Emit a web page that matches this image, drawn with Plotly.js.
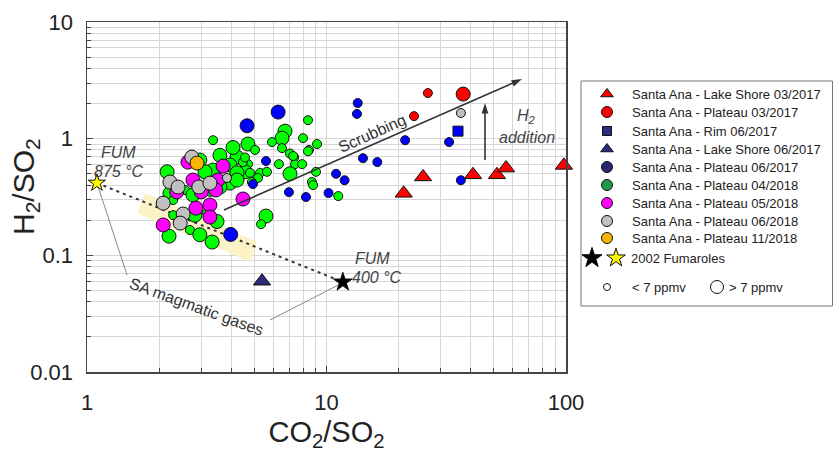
<!DOCTYPE html>
<html><head><meta charset="utf-8">
<script src="https://cdn.plot.ly/plotly-3.0.1.min.js"></script>
<style>html,body{margin:0;padding:0;background:#fff}#chart{width:833px;height:452px}</style>
</head><body><div id="chart"></div>
<script>
// ---------------- DATA ----------------
// Santa Ana - Lake Shore 03/2017
const ls0317_x = [21.0, 25.3, 40.9, 51.5, 56.2, 98.0];
const ls0317_y = [0.34, 0.47, 0.49, 0.49, 0.56, 0.59];
// Santa Ana - Plateau 03/2017
const pl0317_x = [26.5, 37.2, 23.2];
const pl0317_y = [2.46, 2.41, 1.56];
const pl0317_c = ['lo', 'hi', 'lo'];
// Santa Ana - Rim 06/2017
const rim0617_x = [35.4];
const rim0617_y = [1.16];
// Santa Ana - Lake Shore 06/2017
const ls0617_x = [5.38];
const ls0617_y = [0.060];
// Santa Ana - Plateau 06/2017
const pl0617_x = [6.28, 4.66, 5.59, 6.97, 8.21, 3.98, 4.93, 13.5, 13.4, 21.3, 32.5, 14.2, 16.3, 10.96, 11.9, 36.4, 10.2];
const pl0617_y = [1.69, 1.29, 0.643, 0.348, 0.316, 0.151, 0.408, 2.02, 1.63, 0.97, 0.936, 0.68, 0.63, 0.50, 0.44, 0.44, 0.342];
const pl0617_c = ['hi','hi','lo','lo','lo','hi','lo','lo','lo','lo','lo','lo','lo','lo','lo','lo','lo'];
// Santa Ana - Plateau 04/2018
const pl0418_x = [3.36, 6.71, 6.52, 5.92, 6.52, 7.98, 9.13, 8.45, 7.04, 7.33, 7.39, 7.91, 6.33, 7.04, 9.04, 8.69, 8.37, 4.70, 4.23, 4.07,
                  4.70, 4.57, 5.28, 5.17, 5.64, 3.59, 4.48, 3.95, 3.36, 3.11, 4.23, 4.79, 3.95, 3.59, 2.16, 2.57, 2.22, 3.26, 3.26, 2.82,
                  2.29, 2.20, 2.69, 2.96, 3.33, 3.49, 3.17, 2.29, 2.77, 5.59, 5.33, 11.2, 4.23, 4.88, 7.26, 8.37, 8.79, 5.03, 2.96, 4.57];
const pl0418_y = [0.97, 1.16, 1.01, 0.935, 0.83, 1.01, 0.90, 0.80, 0.745, 0.69, 0.605, 0.605, 0.605, 0.50, 0.52, 0.425, 1.44, 0.90, 0.695, 0.84,
                  0.605, 0.52, 0.51, 0.46, 0.52, 0.72, 0.63, 0.594, 0.538, 0.52, 0.51, 0.51, 0.416, 0.385, 0.52, 0.363, 0.34, 0.35, 0.27, 0.221,
                  0.221, 0.146, 0.165, 0.15, 0.13, 0.195, 0.232, 0.298, 0.33, 0.217, 0.185, 0.322, 0.442, 0.425, 0.71, 0.78, 0.40, 0.80, 0.656, 0.69];
const pl0418_c = ['lo','hi','hi','lo','lo','lo','lo','lo','lo','lo','lo','lo','lo','hi','lo','lo','lo','hi','hi','hi',
                  'lo','hi','lo','lo','lo','hi','lo','hi','hi','hi','hi','lo','hi','hi','hi','lo','hi','lo','lo','hi',
                  'lo','hi','lo','hi','hi','hi','lo','lo','hi','hi','lo','lo','hi','lo','lo','lo','lo','lo','hi','lo'];
// Santa Ana - Plateau 05/2018
const pl0518_x = [2.64, 3.70, 2.77, 3.52, 3.45, 4.48, 2.37, 2.85, 3.26, 3.26, 2.08, 3.00];
const pl0518_y = [0.63, 0.582, 0.442, 0.442, 0.363, 0.304, 0.35, 0.254, 0.27, 0.213, 0.182, 0.35];
const pl0518_c = ['hi','hi','hi','hi','hi','hi','hi','hi','hi','hi','hi','hi'];
// Santa Ana - Plateau 06/2018
const pl0618_x = [2.74, 2.22, 2.40, 2.93, 3.26, 3.84, 2.08, 2.52, 2.45, 36.4];
const pl0618_y = [0.695, 0.425, 0.385, 0.385, 0.416, 0.46, 0.28, 0.226, 0.189, 1.66];
const pl0618_c = ['hi','hi','hi','hi','hi','lo','hi','hi','hi','lo'];
// Santa Ana - Plateau 11/2018
const pl1118_x = [2.88];
const pl1118_y = [0.618];
const pl1118_c = ['hi'];
// 2002 Fumaroles (FUM 875 °C, FUM 400 °C)
const fum_x = [1.10, 11.7];
const fum_y = [0.417, 0.059];
// SA magmatic gases field (shaded band)
const band_x = [1.75, 5.13, 4.79, 1.62];
const band_y = [0.342, 0.130, 0.0877, 0.230];
// leader lines for "SA magmatic gases"
const lead1_x = [1.10, 1.47];
const lead1_y = [0.417, 0.0678];
const lead2_x = [5.81, 11.4];
const lead2_y = [0.0279, 0.0567];
// Scrubbing arrow (start, end) and H2 addition arrow (start, end)
const scrub_x = [3.73, 65.5];
const scrub_y = [0.245, 3.24];
const h2add_x = [45.9, 45.9];
const h2add_y = [0.656, 2.02];
// ticks
const xTickVals = [1, 10, 100];
const xTickText = ['1', '10', '100'];
const xMinorVals = [2, 3, 4, 5, 6, 7, 8, 9, 20, 30, 40, 50, 60, 70, 80, 90];
const yTickVals = [0.01, 0.1, 1, 10];
const yTickText = ['0.01', '0.1', '1', '10'];
const yMinorVals = [0.02, 0.03, 0.04, 0.05, 0.06, 0.07, 0.08, 0.09, 0.2, 0.3, 0.4, 0.5, 0.6, 0.7, 0.8, 0.9, 2, 3, 4, 5, 6, 7, 8, 9];
// legend
const legendLabels = ['Santa Ana - Lake Shore 03/2017', 'Santa Ana - Plateau 03/2017', 'Santa Ana - Rim 06/2017',
  'Santa Ana - Lake Shore 06/2017', 'Santa Ana - Plateau 06/2017', 'Santa Ana - Plateau 04/2018',
  'Santa Ana - Plateau 05/2018', 'Santa Ana - Plateau 06/2018', 'Santa Ana - Plateau 11/2018'];
const legendFum = '2002 Fumaroles';
const legendSizeLabels = ['< 7 ppmv', '> 7 ppmv'];

// ---------------- LAYOUT HELPERS ----------------
const W = 833, H = 452, ML = 87, MT = 22, MB = 80;
const PW = W - ML, PH = H - MT - MB;
const pxX = x => (x - ML) / PW;
const pxY = y => (H - MB - y) / PH;
const FONT = 'Liberation Sans, Arial, sans-serif';
const SZ = c => c.map(v => v === 'hi' ? 14 : 9);
const EDGE = {color: '#111', width: 1};

function pts(x, y, color, symbol, sizes) {
  return {x, y, type: 'scatter', mode: 'markers', xaxis: 'x', yaxis: 'y', hoverinfo: 'x+y', showlegend: false,
    cliponaxis: false, marker: {color, symbol, size: sizes, opacity: 1, line: EDGE}};
}
function arrow(x, y) {
  return {x, y, type: 'scatter', mode: 'lines+markers', xaxis: 'x', yaxis: 'y', hoverinfo: 'skip', showlegend: false,
    line: {color: '#333', width: 1.6}, cliponaxis: false,
    marker: {symbol: ['circle', 'arrow'], size: [0, 11], angleref: 'previous', color: '#333', opacity: 1, line: {width: 0}}};
}

const traces = [];
traces.push({x: band_x, y: band_y, type: 'scatter', mode: 'lines', fill: 'toself', fillcolor: '#fbf2c6',
  line: {width: 0, color: '#fbf2c6'}, hoverinfo: 'skip', showlegend: false});
traces.push({x: lead1_x, y: lead1_y, type: 'scatter', mode: 'lines', line: {color: '#888', width: 1}, hoverinfo: 'skip', showlegend: false});
traces.push({x: lead2_x, y: lead2_y, type: 'scatter', mode: 'lines', line: {color: '#888', width: 1}, hoverinfo: 'skip', showlegend: false});
traces.push({x: fum_x, y: fum_y, type: 'scatter', mode: 'lines', line: {color: '#333', width: 2, dash: '3px,4px'}, hoverinfo: 'skip', showlegend: false});
traces.push(pts(pl0418_x, pl0418_y, '#00ff00', 'circle', SZ(pl0418_c)));
traces.push(pts(pl0518_x, pl0518_y, '#ff00ff', 'circle', SZ(pl0518_c)));
traces.push(pts(pl0618_x, pl0618_y, '#c0c0c0', 'circle', SZ(pl0618_c)));
traces.push(pts(pl1118_x, pl1118_y, '#f7b500', 'circle', SZ(pl1118_c)));
traces.push(pts(pl0617_x, pl0617_y, '#0000ff', 'circle', SZ(pl0617_c)));
traces.push(pts(pl0317_x, pl0317_y, '#ff0000', 'circle', SZ(pl0317_c)));
traces.push(pts(rim0617_x, rim0617_y, '#0000ff', 'square', 10));
traces.push(pts(ls0617_x, ls0617_y, '#2d2a7e', 'triangle-up', 15));
traces.push(pts(ls0317_x, ls0317_y, '#ff0000', 'triangle-up', 15));
traces.push(pts([fum_x[0]], [fum_y[0]], '#ffff00', 'star', 13));
traces.push(pts([fum_x[1]], [fum_y[1]], '#000000', 'star', 14));
traces.push(arrow(scrub_x, scrub_y));
traces.push(arrow(h2add_x, h2add_y));

// custom legend (pixel-positioned helper axes x2/y2)
const legColors = ['#ff0000', '#ff0000', '#2b2b7f', '#2b2b7f', '#262673', '#1e9a4a', '#ff00ff', '#c0c0c0', '#f5b400'];
const legSymbols = ['triangle-up', 'circle', 'square', 'triangle-up', 'circle', 'circle', 'circle', 'circle', 'circle'];
const legRowY = [94, 112, 131, 149, 167, 185, 203, 221, 238];
const annotations = [];
legendLabels.forEach((lab, i) => {
  traces.push({x: [607], y: [legRowY[i]], xaxis: 'x2', yaxis: 'y2', type: 'scatter', mode: 'markers', hoverinfo: 'skip', showlegend: false,
    marker: {color: legColors[i], symbol: legSymbols[i], size: legSymbols[i] === 'square' ? 9 : 11, opacity: 1, line: {color: '#111', width: 1}}});
  annotations.push({xref: 'x2', yref: 'y2', x: 630, y: legRowY[i], text: lab, showarrow: false, xanchor: 'left', yanchor: 'middle',
    font: {family: FONT, size: 13, color: '#222'}});
});
traces.push({x: [592], y: [258], xaxis: 'x2', yaxis: 'y2', type: 'scatter', mode: 'markers', hoverinfo: 'skip', showlegend: false,
  marker: {color: '#000', symbol: 'star', size: 15, line: {color: '#000', width: 1}}});
traces.push({x: [616], y: [258], xaxis: 'x2', yaxis: 'y2', type: 'scatter', mode: 'markers', hoverinfo: 'skip', showlegend: false,
  marker: {color: '#ffff00', symbol: 'star', size: 14, line: {color: '#111', width: 1}}});
annotations.push({xref: 'x2', yref: 'y2', x: 629, y: 258, text: legendFum, showarrow: false, xanchor: 'left', yanchor: 'middle',
  font: {family: FONT, size: 13, color: '#222'}});
traces.push({x: [607, 717], y: [287, 287], xaxis: 'x2', yaxis: 'y2', type: 'scatter', mode: 'markers', hoverinfo: 'skip', showlegend: false,
  marker: {color: '#fff', symbol: 'circle', size: [7, 13], opacity: 1, line: {color: '#111', width: 1}}});
annotations.push({xref: 'x2', yref: 'y2', x: 630, y: 287, text: legendSizeLabels[0], showarrow: false, xanchor: 'left', yanchor: 'middle',
  font: {family: FONT, size: 13, color: '#222'}});
annotations.push({xref: 'x2', yref: 'y2', x: 727, y: 287, text: legendSizeLabels[1], showarrow: false, xanchor: 'left', yanchor: 'middle',
  font: {family: FONT, size: 13, color: '#222'}});

// in-plot labels
const txt = (x, y, text, size, angle, italic, color) => ({xref: 'paper', yref: 'paper', x: pxX(x), y: pxY(y), text, showarrow: false,
  xanchor: 'center', yanchor: 'middle', textangle: angle, font: {family: FONT, size, color, style: italic ? 'italic' : 'normal'}});
annotations.push(txt(372, 133, 'Scrubbing', 16, -24, false, '#333'));
annotations.push(txt(526, 116, 'H<sub>2</sub>', 16, 0, true, '#444'));
annotations.push(txt(527, 137, 'addition', 16, 0, true, '#444'));
annotations.push(txt(118, 152, 'FUM', 16, 0, true, '#444'));
annotations.push(txt(119, 171, '875 °C', 16, 0, true, '#444'));
annotations.push(txt(372, 258, 'FUM', 16, 0, true, '#444'));
annotations.push(txt(377, 277, '400 °C', 16, 0, true, '#444'));
annotations.push(txt(196, 306, 'SA magmatic gases', 16, 20, false, '#333'));
// y-axis title
annotations.push({xref: 'paper', yref: 'paper', x: pxX(25), y: pxY(187), text: 'H<sub>2</sub>/SO<sub>2</sub>', showarrow: false,
  textangle: -90, xanchor: 'center', yanchor: 'middle', font: {family: FONT, size: 30, color: '#222'}});

const grid = '#d6d6d6';
const layout = {
  width: W, height: H, margin: {l: ML, r: 0, t: MT, b: MB},
  paper_bgcolor: '#fff', plot_bgcolor: 'rgba(0,0,0,0)', showlegend: false,
  font: {family: FONT, color: '#222'},
  xaxis: {type: 'log', range: [0, 2], domain: [0, (566 - ML) / PW], anchor: 'y', automargin: false,
    tickmode: 'array', tickvals: xTickVals, ticktext: xTickText, tickfont: {size: 22, color: '#222'},
    ticks: 'inside', ticklen: 6, tickcolor: '#444', ticklabelstandoff: 10,
    showgrid: true, gridcolor: grid, gridwidth: 1, showline: true, linecolor: '#444', linewidth: 1.5, mirror: true, zeroline: false,
    minor: {tickmode: 'array', tickvals: xMinorVals, ticks: 'inside', ticklen: 4, tickcolor: '#444', showgrid: true, gridcolor: grid, gridwidth: 1},
    title: {text: 'CO<sub>2</sub>/SO<sub>2</sub>', font: {size: 29, color: '#222'}, standoff: 8}},
  yaxis: {type: 'log', range: [-2, 1], domain: [0, 1], anchor: 'x', automargin: false,
    tickmode: 'array', tickvals: yTickVals, ticktext: yTickText, tickfont: {size: 22, color: '#222'},
    ticks: 'inside', ticklen: 6, tickcolor: '#444', ticklabelstandoff: 8,
    showgrid: true, gridcolor: grid, gridwidth: 1, showline: true, linecolor: '#444', linewidth: 1.5, mirror: true, zeroline: false,
    minor: {tickmode: 'array', tickvals: yMinorVals, ticks: 'inside', ticklen: 4, tickcolor: '#444', showgrid: true, gridcolor: grid, gridwidth: 1}},
  xaxis2: {domain: [0, 1], range: [ML, W], anchor: 'y2', visible: false, fixedrange: true},
  yaxis2: {domain: [0, 1], range: [H - MB, MT], anchor: 'x2', visible: false, fixedrange: true},
  shapes: [{type: 'rect', xref: 'paper', yref: 'paper', x0: pxX(581), x1: pxX(832.5), y0: pxY(81), y1: pxY(306),
    line: {color: '#777', width: 1}, fillcolor: 'rgba(0,0,0,0)', layer: 'above'}],
  annotations
};
Plotly.newPlot('chart', traces, layout, {displayModeBar: false, staticPlot: true});
</script>
</body></html>
